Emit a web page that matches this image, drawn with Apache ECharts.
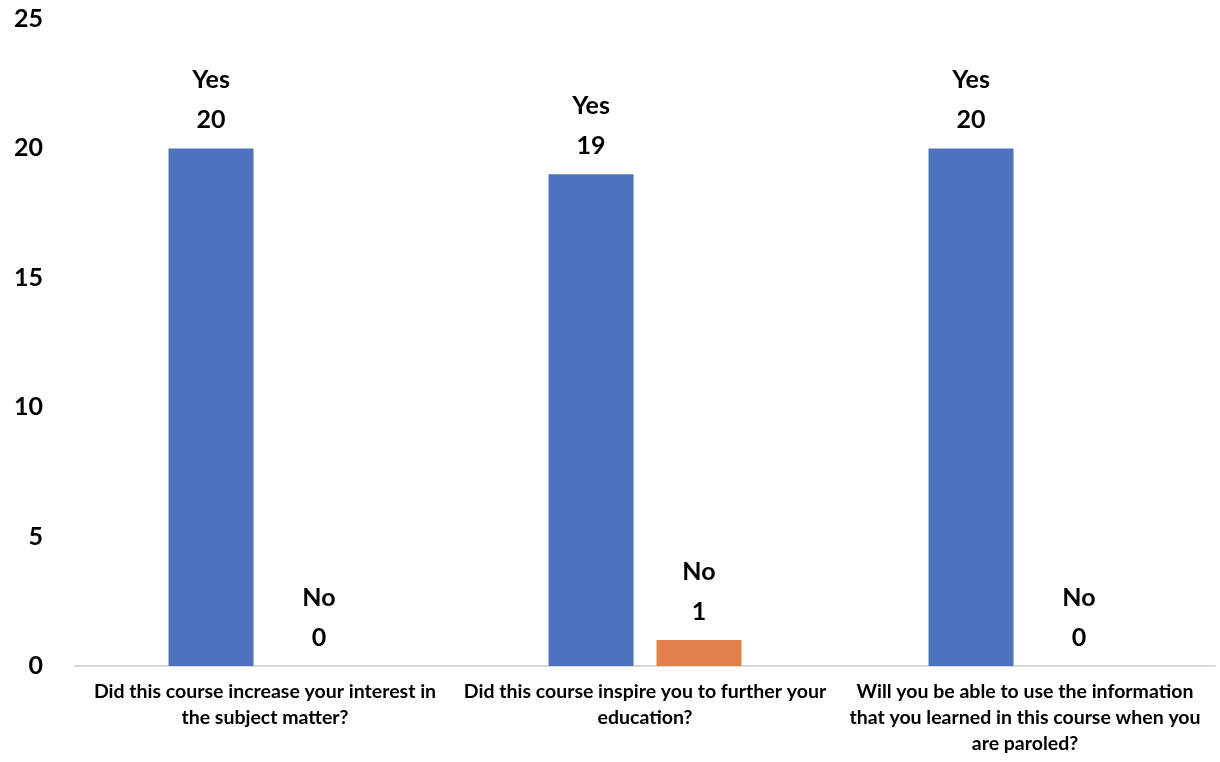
<!DOCTYPE html>
<html>
<head>
<meta charset="utf-8">
<script src="https://cdn.jsdelivr.net/npm/echarts@6/dist/echarts.min.js"></script>
<style>html,body{margin:0;padding:0;background:#fff}#c{width:1220px;height:762px}</style>
</head>
<body>
<div id="c"></div>
<script>
const categories = [
  "Did this course increase your interest in\nthe subject matter?",
  "Did this course inspire you to further your\neducation?",
  "Will you be able to use the information\nthat you learned in this course when you\nare paroled?"
];
const yesValues = [20, 19, 20];
const noValues = [0, 1, 0];
const seriesNames = ["Yes", "No"];

const chart = echarts.init(document.getElementById('c'));
const font = 'Lato, "Open Sans", sans-serif';
const labelStyle = {
  show: true, position: 'top', distance: 8,
  formatter: p => p.seriesName + '\n' + p.value,
  fontFamily: font, fontWeight: 'bold', fontSize: 25, lineHeight: 40, color: '#000'
};
chart.setOption({
  animation: false,
  grid: { left: 75, right: 5, top: 19, bottom: 96 },
  xAxis: {
    type: 'category', data: categories,
    axisLine: { lineStyle: { color: '#d9d9d9', width: 2 } },
    axisTick: { show: false },
    axisLabel: { interval: 0, margin: 13, fontFamily: font, fontWeight: 'bold', fontSize: 19.5, lineHeight: 26, color: '#000' }
  },
  yAxis: {
    type: 'value', min: 0, max: 25, interval: 5,
    splitLine: { show: false }, axisLine: { show: false }, axisTick: { show: false },
    axisLabel: { margin: 32, fontFamily: font, fontWeight: 'bold', fontSize: 25, color: '#000' }
  },
  series: [
    { name: seriesNames[0], type: 'bar', data: yesValues, barWidth: 85, barGap: '27%', itemStyle: { color: '#4E73BE' }, label: labelStyle },
    { name: seriesNames[1], type: 'bar', data: noValues, barWidth: 85, itemStyle: { color: '#E0824A' }, label: labelStyle }
  ]
});
</script>
</body>
</html>
